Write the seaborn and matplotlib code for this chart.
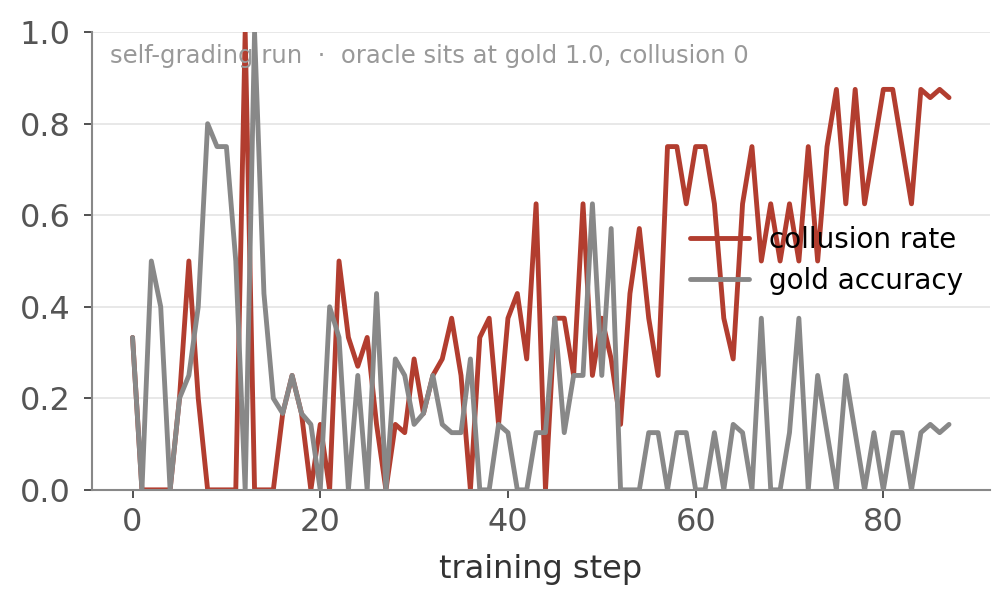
import numpy as np
import pandas as pd
import matplotlib
matplotlib.use("Agg")
import matplotlib.pyplot as plt
import seaborn as sns

steps = list(range(88))

collusion_rate = [
    0.333, 0, 0, 0, 0, 0.2, 0.5, 0.2, 0, 0,
    0, 0, 1.0, 0, 0, 0, 0.167, 0.25, 0.167, 0,
    0.143, 0, 0.5, 0.333, 0.27, 0.333, 0.143, 0, 0.143, 0.125,
    0.286, 0.167, 0.25, 0.286, 0.375, 0.25, 0, 0.333, 0.375, 0.143,
    0.375, 0.429, 0.286, 0.625, 0, 0.375, 0.375, 0.25, 0.625, 0.25,
    0.375, 0.286, 0.143, 0.429, 0.571, 0.375, 0.25, 0.75, 0.75, 0.625,
    0.75, 0.75, 0.625, 0.375, 0.286, 0.625, 0.75, 0.5, 0.625, 0.5,
    0.625, 0.5, 0.75, 0.5, 0.75, 0.875, 0.625, 0.875, 0.625, 0.75,
    0.875, 0.875, 0.75, 0.625, 0.875, 0.857, 0.875, 0.857,
]

gold_accuracy = [
    0.333, 0, 0.5, 0.4, 0, 0.2, 0.25, 0.4, 0.8, 0.75,
    0.75, 0.5, 0, 1.0, 0.429, 0.2, 0.167, 0.25, 0.167, 0.143,
    0, 0.4, 0.333, 0, 0.25, 0, 0.429, 0, 0.286, 0.25,
    0.143, 0.167, 0.25, 0.143, 0.125, 0.125, 0.286, 0, 0, 0.143,
    0.125, 0, 0, 0.125, 0.125, 0.375, 0.125, 0.25, 0.25, 0.625,
    0.25, 0.571, 0, 0, 0, 0.125, 0.125, 0, 0.125, 0.125,
    0, 0, 0.125, 0, 0.143, 0.125, 0, 0.375, 0, 0,
    0.125, 0.375, 0, 0.25, 0.125, 0, 0.25, 0.125, 0, 0.125,
    0, 0.125, 0.125, 0, 0.125, 0.143, 0.125, 0.143,
]

series_names = ["collusion rate", "gold accuracy"]
colors = ["#b23d2f", "#888888"]
subtitle = "self-grading run  \u00b7  oracle sits at gold 1.0, collusion 0"

df = pd.DataFrame({
    "step": steps * 2,
    "value": collusion_rate + gold_accuracy,
    "series": [series_names[0]] * len(steps) + [series_names[1]] * len(steps),
})

sns.set_theme(style="white")
plt.rcParams["font.family"] = ["DejaVu Sans"]

fig = plt.figure(figsize=(10.08, 6.07), dpi=100)
ax = fig.add_axes([0.091, 0.193, 0.891, 0.754])

sns.lineplot(data=df, x="step", y="value", hue="series", hue_order=series_names,
             palette=colors, linewidth=3.5, ax=ax, legend=True)

ax.set_ylim(0, 1.0)
ax.set_yticks([0, 0.2, 0.4, 0.6, 0.8, 1.0])
ax.set_xticks([0, 20, 40, 60, 80])
ax.yaxis.grid(True, color="#e6e6e6", linewidth=1.3)
ax.xaxis.grid(False)
ax.set_axisbelow(True)
for s in ["top", "right"]:
    ax.spines[s].set_visible(False)
for s in ["left", "bottom"]:
    ax.spines[s].set_color("#888888")
    ax.spines[s].set_linewidth(1.5)
ax.tick_params(axis="both", which="major", labelsize=23, colors="#555555",
               length=6, width=1.2, direction="out", left=True, bottom=True, pad=6)
ax.tick_params(axis="y", pad=9)
ax.tick_params(axis="both", color="#333333")
ax.set_xlabel("training step", fontsize=23, color="#333333", labelpad=12)
ax.set_ylabel("")

ax.text(0.02, 0.948, subtitle, transform=ax.transAxes, fontsize=17.5,
        color="#999999", va="center", ha="left")

handles, labels = ax.get_legend_handles_labels()
ax.legend(handles, labels, frameon=False, fontsize=20, loc="upper left",
          bbox_to_anchor=(0.638, 0.632), handlelength=2.15, labelspacing=0.47,
          handletextpad=0.72, borderpad=0.4, labelcolor="black")

fig.savefig("out.png", dpi=100)
